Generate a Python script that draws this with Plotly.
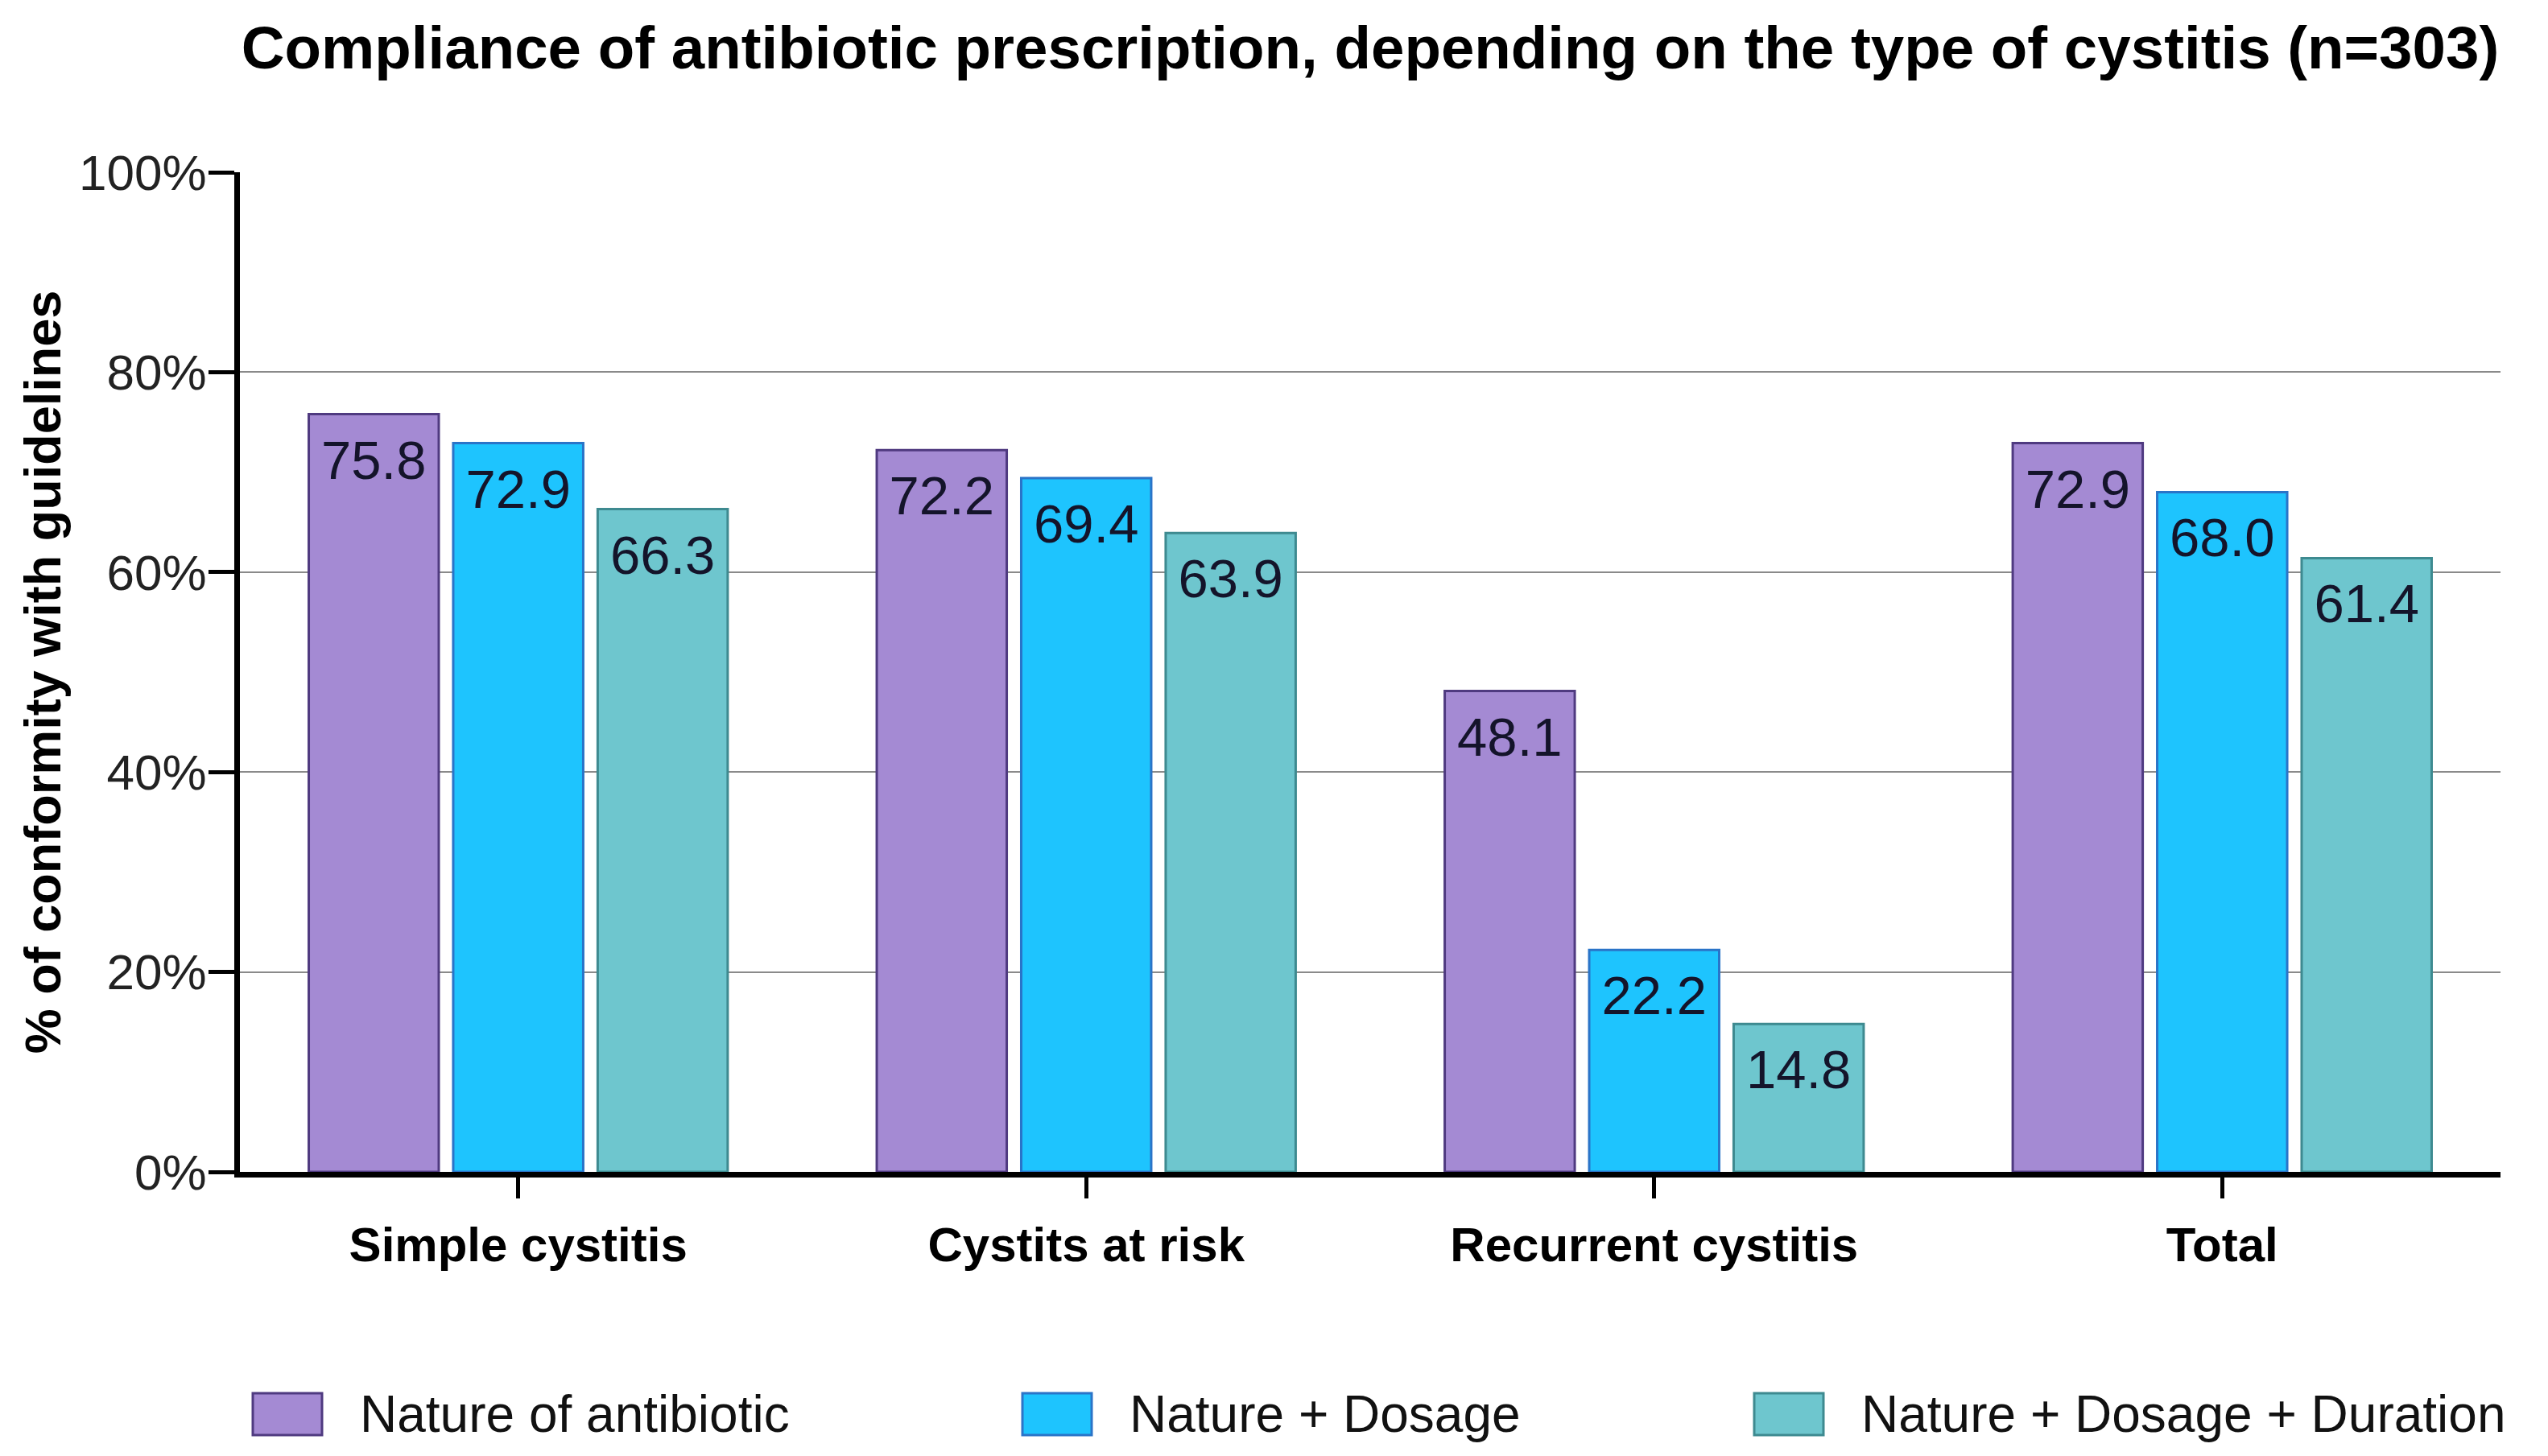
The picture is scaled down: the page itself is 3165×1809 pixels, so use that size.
import plotly.graph_objects as go

categories = ["Simple cystitis", "Cystits at risk", "Recurrent cystitis", "Total"]
series_names = ["Nature of antibiotic", "Nature + Dosage", "Nature + Dosage + Duration"]
nature = [75.8, 72.2, 48.1, 72.9]
nature_dosage = [72.9, 69.4, 22.2, 68.0]
nature_dosage_duration = [66.3, 63.9, 14.8, 61.4]
y_ticks = [0, 20, 40, 60, 80, 100]
y_tick_labels = ["0%", "20%", "40%", "60%", "80%", "100%"]

series_values = [nature, nature_dosage, nature_dosage_duration]
fills = ["#A48AD3", "#1EC4FE", "#6EC6CE"]
outlines = ["#4F3A80", "#2A74C8", "#3E8A90"]

W, H = 3165, 1809
L, R, T, B = 290, 3098, 206, 1448
FONT = "Liberation Sans"
GAP = 0.237

fig = go.Figure()
for i, (name, vals, fc, lc) in enumerate(zip(series_names, series_values, fills, outlines)):
    fig.add_trace(go.Bar(
        x=categories, y=vals, name=name, offsetgroup=str(i),
        marker=dict(color=fc, line=dict(color=lc, width=3)),
        showlegend=False, hoverinfo="x+y",
    ))
for i, (name, vals) in enumerate(zip(series_names, series_values)):
    fig.add_trace(go.Scatter(
        x=categories, y=vals, name=name, offsetgroup=str(i),
        mode="markers+text", text=[f"{v:.1f}" for v in vals],
        textposition="bottom center",
        marker=dict(size=46, color="rgba(0,0,0,0)"),
        textfont=dict(family=FONT, size=67, color="#14142a"),
        showlegend=False, hoverinfo="skip", cliponaxis=False,
    ))

def px(xp):
    return (xp - L) / (R - L)

def py(yp):
    return (B - yp) / (B - T)

shapes = []
annotations = []
legend_pos = [(306, 437), (1262, 1393), (2171, 2302)]
for (sx, tx), name, fc, lc in zip(legend_pos, series_names, fills, outlines):
    shapes.append(dict(type="rect", xref="paper", yref="paper",
                       x0=px(sx), x1=px(sx + 86), y0=py(1723), y1=py(1775),
                       fillcolor=fc, line=dict(color=lc, width=3)))
    annotations.append(dict(xref="paper", yref="paper", x=px(tx), y=py(1749),
                            xanchor="left", yanchor="middle", showarrow=False,
                            text=name, font=dict(family=FONT, size=64, color="#111")))

fig.update_layout(
    width=W, height=H,
    margin=dict(l=L, r=W - R, t=T, b=H - B, pad=0),
    paper_bgcolor="white", plot_bgcolor="white",
    barmode="group", bargap=GAP, bargroupgap=0.1,
    scattermode="group", scattergap=GAP,
    title=dict(text="<b>Compliance of antibiotic prescription, depending on the type of cystitis (n=303)</b>",
               x=0.5, xref="paper", xanchor="center", y=1 - 51 / H, yanchor="middle",
               font=dict(family=FONT, size=74.5, color="#000")),
    shapes=shapes, annotations=annotations,
    showlegend=False,
)
fig.update_xaxes(
    range=[-0.49, 3.49], showline=True, linecolor="#000", linewidth=7,
    ticks="outside", ticklen=26, tickwidth=5, tickcolor="#000",
    tickfont=dict(family=FONT, size=60, color="#000", weight="bold"),
    ticklabelstandoff=6,
    showgrid=False, zeroline=False,
)
fig.update_yaxes(
    range=[0, 100], tickvals=y_ticks, ticktext=y_tick_labels,
    showline=True, linecolor="#000", linewidth=7,
    ticks="outside", ticklen=32, tickwidth=5, tickcolor="#000",
    tickfont=dict(family=FONT, size=62, color="#222"),
    ticklabelstandoff=-10,
    showgrid=True, gridcolor="#8a8a8a", gridwidth=2, zeroline=False,
    title=dict(text="<b>% of conformity with guidelines</b>", standoff=4,
               font=dict(family=FONT, size=63, color="#000")),
)
fig.write_html("out.html")
